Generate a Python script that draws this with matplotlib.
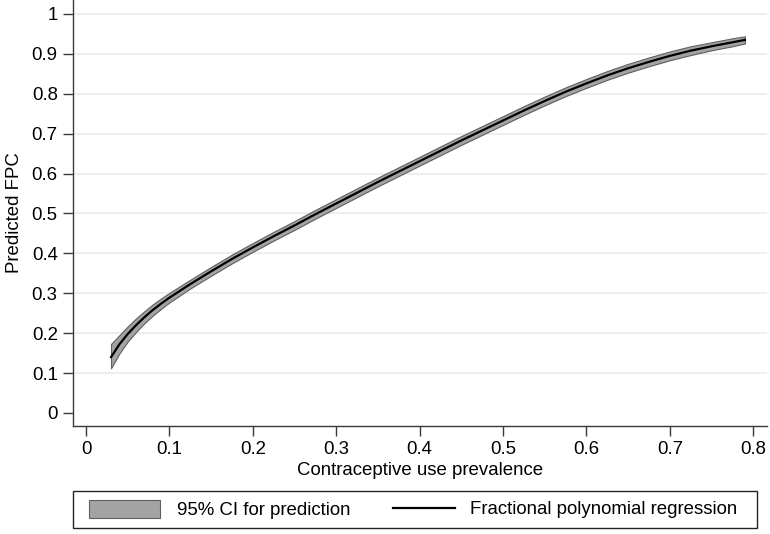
import matplotlib
matplotlib.use("Agg")
import matplotlib.pyplot as plt
from matplotlib.patches import Patch, Rectangle
from matplotlib.lines import Line2D

plt.rcParams['font.family'] = ['Liberation Sans', 'DejaVu Sans']

# Data
prevalence = [0.03, 0.04, 0.05, 0.06, 0.07, 0.08, 0.09, 0.10, 0.125, 0.15,
              0.175, 0.20, 0.225, 0.25, 0.275, 0.30, 0.325, 0.35, 0.375, 0.40,
              0.425, 0.45, 0.475, 0.50, 0.525, 0.55, 0.575, 0.60, 0.625, 0.65,
              0.675, 0.70, 0.725, 0.75, 0.775, 0.79]
fpc_pred = [0.140, 0.172, 0.198, 0.220, 0.240, 0.258, 0.274, 0.289, 0.323, 0.355,
            0.386, 0.415, 0.443, 0.470, 0.498, 0.525, 0.552, 0.579, 0.605, 0.631,
            0.657, 0.683, 0.708, 0.733, 0.758, 0.782, 0.805, 0.826, 0.846, 0.864,
            0.880, 0.895, 0.908, 0.919, 0.929, 0.935]
ci_lower = [0.112, 0.149, 0.179, 0.203, 0.225, 0.244, 0.261, 0.277, 0.312, 0.344,
            0.375, 0.404, 0.432, 0.459, 0.487, 0.514, 0.541, 0.568, 0.594, 0.620,
            0.646, 0.672, 0.697, 0.722, 0.747, 0.771, 0.794, 0.815, 0.835, 0.853,
            0.869, 0.884, 0.897, 0.909, 0.919, 0.926]
ci_upper = [0.173, 0.195, 0.217, 0.237, 0.255, 0.272, 0.287, 0.301, 0.334, 0.366,
            0.397, 0.426, 0.454, 0.481, 0.509, 0.536, 0.563, 0.590, 0.616, 0.642,
            0.668, 0.694, 0.719, 0.744, 0.769, 0.793, 0.816, 0.837, 0.857, 0.875,
            0.891, 0.906, 0.919, 0.929, 0.939, 0.944]

x_ticks = [0, 0.1, 0.2, 0.3, 0.4, 0.5, 0.6, 0.7, 0.8]
y_ticks = [0, 0.1, 0.2, 0.3, 0.4, 0.5, 0.6, 0.7, 0.8, 0.9, 1]
x_ticklabels = ['0', '0.1', '0.2', '0.3', '0.4', '0.5', '0.6', '0.7', '0.8']
y_ticklabels = ['0', '0.1', '0.2', '0.3', '0.4', '0.5', '0.6', '0.7', '0.8', '0.9', '1']

W, H = 770, 534
FS = 13.4
fig = plt.figure(figsize=(W / 100, H / 100), dpi=100)
ax = fig.add_axes([73 / W, 1 - 426 / H, (767 - 73) / W, 426 / H])

band_face = '#a3a3a3'
band_edge = '#5f5f5f'

for yv in y_ticks[1:]:
    ax.axhline(yv, color='#e6edef', lw=1.2, zorder=0)

ax.fill_between(prevalence, ci_lower, ci_upper, facecolor=band_face,
                edgecolor=band_edge, linewidth=0.8, zorder=2)
ax.plot(prevalence, fpc_pred, color='black', lw=1.6, zorder=3)

ax.set_xlim(-0.0156, 0.8165)
ax.set_ylim(-0.0326, 1.035)
ax.set_xticks(x_ticks)
ax.set_xticklabels(x_ticklabels)
ax.set_yticks(y_ticks)
ax.set_yticklabels(y_ticklabels)

for s in ['top', 'right']:
    ax.spines[s].set_visible(False)
for s in ['left', 'bottom']:
    ax.spines[s].set_color('#3a3a3a')
    ax.spines[s].set_linewidth(1.0)

ax.tick_params(axis='both', direction='out', length=7, width=1.0,
               color='#3a3a3a', labelsize=FS, labelcolor='black', pad=4)
ax.set_xlabel('Contraceptive use prevalence', fontsize=FS, labelpad=3)
ax.set_ylabel('Predicted FPC', fontsize=FS, labelpad=6)

# Legend: frame + two entries
fig.patches.append(Rectangle((73 / W, 1 - 528 / H), (757 - 73) / W, 37 / H,
                             transform=fig.transFigure, fill=False,
                             edgecolor='#222222', linewidth=1.0))
yc = 1 - 509.5 / H
fpx = FS * 100 / 72
fig.legend([Patch(facecolor=band_face, edgecolor=band_edge, linewidth=0.8)],
           ['95% CI for prediction'], loc='center left',
           bbox_to_anchor=(89 / W, yc), fontsize=FS, frameon=False,
           handlelength=71 / fpx, handleheight=20 / fpx,
           handletextpad=17 / fpx, borderpad=0.0, borderaxespad=0.0)
fig.legend([Line2D([0], [0], color='black', lw=1.6)],
           ['Fractional polynomial regression'], loc='center left',
           bbox_to_anchor=(393 / W, yc), fontsize=FS, frameon=False,
           handlelength=62 / fpx, handletextpad=15 / fpx,
           borderpad=0.0, borderaxespad=0.0)

fig.savefig('out.png', dpi=100)
